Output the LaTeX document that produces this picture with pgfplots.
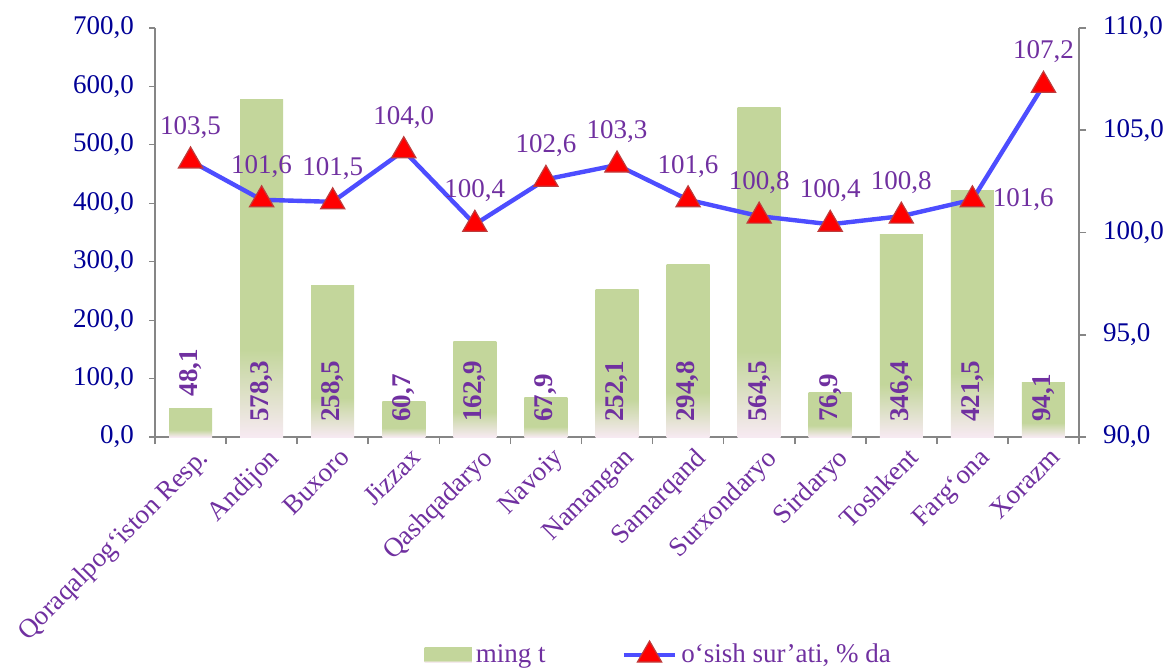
\documentclass[border=0pt]{standalone}
\usepackage{pgfplots}
\usepackage{pgfplotstable}
\pgfplotsset{compat=1.18}
\usepackage{fontspec}
\setmainfont{Liberation Serif}

\definecolor{barg}{RGB}{195,214,155}
\definecolor{barpink}{RGB}{247,234,242}
\definecolor{linblue}{RGB}{77,77,255}
\definecolor{mkred}{RGB}{255,0,0}
\definecolor{mkedge}{RGB}{190,60,60}
\definecolor{txtpurple}{RGB}{112,48,160}
\definecolor{ticknavy}{RGB}{0,0,150}
\definecolor{axgrey}{RGB}{134,134,134}
\pgfdeclareverticalshading{barfade}{100bp}{color(0bp)=(barpink); color(25bp)=(barpink); color(38bp)=(barg); color(100bp)=(barg)}
\pgfdeclareverticalshading{legfade}{100bp}{color(0bp)=(barpink); color(25bp)=(barpink); color(32bp)=(barg); color(100bp)=(barg)}

\pgfplotstableread{
x val lab laby
0 48.1 48,1 62
1 578.3 578,3 19
2 258.5 258,5 19
3 60.7 60,7 19
4 162.9 162,9 19
5 67.9 67,9 19
6 252.1 252,1 19
7 294.8 294,8 19
8 564.5 564,5 19
9 76.9 76,9 19
10 346.4 346,4 19
11 421.5 421,5 19
12 94.1 94,1 19
}\bardata

\pgfplotstableread{
x val lab
0 103.5 103,5
1 101.6 101,6
2 101.5 101,5
3 104.0 104,0
4 100.4 100,4
5 102.6 102,6
6 103.3 103,3
7 101.6 101,6
8 100.8 100,8
9 100.4 100,4
10 100.8 100,8
11 101.6 101,6
12 107.2 107,2
}\linedata

\newcommand{\fs}{\fontsize{13.5}{16}\selectfont}

\begin{document}
\begin{tikzpicture}
\begin{axis}[
  at={(0,0)}, anchor=south west,
  scale only axis, width=462pt, height=204.5pt,
  xmin=-0.5, xmax=12.5, ymin=0, ymax=700,
  axis x line*=bottom, axis y line*=left,
  axis line style={axgrey, line width=0.8pt},
  xtick={0,...,12},
  xticklabels={Qoraqalpog‘iston Resp., Andijon, Buxoro, Jizzax, Qashqadaryo, Navoiy, Namangan, Samarqand, Surxondaryo, Sirdaryo, Toshkent, Farg‘ona, Xorazm},
  major x tick style={draw=none},
  minor xtick={-0.5,0.5,...,12.5},
  minor x tick style={axgrey, line width=0.8pt},
  minor tick length=3.5pt,
  xticklabel style={rotate=45, anchor=north east, font=\fs, text=txtpurple, inner sep=1pt, yshift=-2pt, xshift=2pt},
  ytick={0,100,...,700},
  ytick style={axgrey, line width=0.6pt},
  major tick length=3pt,
  tick align=outside,
  yticklabel style={font=\fs, text=ticknavy, xshift=-4pt, /pgf/number format/.cd, fixed, fixed zerofill, precision=1, use comma, 1000 sep={}, assume math mode=true},
  clip=false,
]
\pgfplotsinvokeforeach{0,...,12}{
  \addplot[ybar, bar width=21.5pt, bar shift=0pt, draw=none, shade, shading=barfade,
    x filter/.expression={abs(x-#1)<0.1 ? x : nan}] table[x=x, y=val]{\bardata};
}
\addplot[draw=none, mark=none, nodes near coords, point meta=explicit symbolic,
  every node near coord/.style={rotate=90, anchor=west, font=\fs\bfseries, text=txtpurple, inner sep=2pt}]
  table[x=x, y=laby, meta=lab]{\bardata};
\end{axis}
\begin{axis}[
  at={(0,0)}, anchor=south west,
  scale only axis, width=462pt, height=204.5pt,
  xmin=-0.5, xmax=12.5, ymin=90, ymax=110,
  axis x line=none, axis y line*=right,
  axis line style={axgrey, line width=0.8pt},
  ytick={90,95,...,110},
  ytick style={axgrey, line width=0.8pt},
  major tick length=3.5pt,
  tick align=outside,
  yticklabel style={font=\fs, text=ticknavy, xshift=5pt, /pgf/number format/.cd, fixed, fixed zerofill, precision=1, use comma, 1000 sep={}, assume math mode=true},
  clip=false,
  legend columns=2,
  legend style={at={(0.285,-0.533)}, anchor=west, draw=none, fill=none, font=\fs, text=txtpurple,
    /tikz/every even column/.append style={column sep=36pt}},
]
\addlegendimage{legend image code/.code={\shade[draw=none, shading=legfade] (0cm,-0.125cm) rectangle (0.83cm,0.125cm);}}
\addlegendentry{ming t}
\addplot[linblue, line width=2.2pt, mark=triangle*, mark size=7pt,
  mark options={fill=mkred, draw=mkedge, line width=0.6pt},
  legend image code/.code={\draw[mark repeat=2,mark phase=2] plot coordinates {(0cm,0cm) (0.45cm,0cm) (0.9cm,0cm)};}]
  table[x=x, y=val]{\linedata};
\addlegendentry{o‘sish sur’ati, \% da}
\addplot[forget plot, draw=none, mark=none, nodes near coords, point meta=explicit symbolic,
  skip coords between index={11}{12},
  every node near coord/.style={anchor=south, font=\fs, text=txtpurple, inner sep=2pt, yshift=9pt}]
  table[x=x, y=val, meta=lab]{\linedata};
\addplot[forget plot, draw=none, mark=none, nodes near coords, point meta=explicit symbolic,
  skip coords between index={0}{11}, skip coords between index={12}{13},
  every node near coord/.style={anchor=west, font=\fs, text=txtpurple, inner sep=2pt, xshift=8pt}]
  table[x=x, y=val, meta=lab]{\linedata};
\end{axis}
\pgfresetboundingbox
\path[use as bounding box] (-77.5pt,-116.5pt) rectangle (505pt,218.5pt);
\end{tikzpicture}
\end{document}
